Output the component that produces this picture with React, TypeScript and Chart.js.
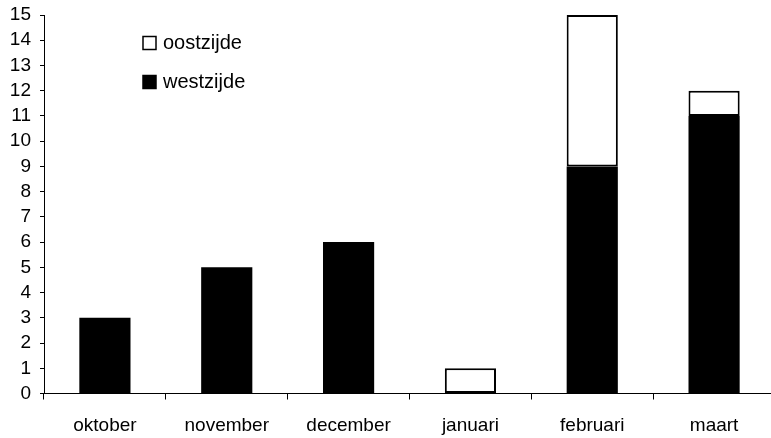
import React, { useEffect, useRef } from "react";
import { Chart, registerables } from "chart.js";

Chart.register(...registerables);

const categories = ["oktober", "november", "december", "januari", "februari", "maart"];
const westzijde = [3, 5, 6, 0, 9, 11];
const oostzijde = [0, 0, 0, 1, 6, 1];
const yTicks = [0, 15, 1]; // min, max, step

const FONT = "'Liberation Sans', Arial, sans-serif";
const nz = (arr: number[]) => arr.map((v) => (v === 0 ? null : v));

const insideLegend = {
  id: "insideLegend",
  afterDraw(chart: any) {
    const { ctx, chartArea } = chart;
    const items = [...chart.data.datasets].reverse();
    ctx.save();
    ctx.font = `20px ${FONT}`;
    ctx.textBaseline = "middle";
    ctx.textAlign = "left";
    items.forEach((ds: any, i: number) => {
      const cy = chartArea.top + 28 + i * 39;
      const bx = chartArea.left + 99;
      ctx.fillStyle = ds.backgroundColor;
      ctx.fillRect(bx, cy - 6.5, 13, 13);
      ctx.strokeStyle = "#000";
      ctx.lineWidth = 1.5;
      ctx.strokeRect(bx, cy - 6.5, 13, 13);
      ctx.fillStyle = "#000";
      ctx.fillText(ds.label, bx + 20, cy);
    });
    ctx.restore();
  },
};

export default function App() {
  const ref = useRef<HTMLCanvasElement>(null);
  useEffect(() => {
    document.body.style.margin = "0";
    document.body.style.overflow = "hidden";
    const chart = new Chart(ref.current!, {
      type: "bar",
      data: {
        labels: categories,
        datasets: [
          {
            label: "westzijde",
            data: nz(westzijde),
            backgroundColor: "#000000",
            borderColor: "#000000",
            borderWidth: 0,
            borderSkipped: false,
          },
          {
            label: "oostzijde",
            data: nz(oostzijde),
            backgroundColor: "#ffffff",
            borderColor: "#000000",
            borderWidth: 2,
            borderSkipped: false,
          },
        ],
      },
      options: {
        responsive: false,
        animation: false,
        devicePixelRatio: 1,
        layout: { padding: { top: 15, right: 1, left: 0, bottom: 0 } },
        plugins: { legend: { display: false }, tooltip: { enabled: false } },
        datasets: { bar: { categoryPercentage: 1, barPercentage: 0.42 } },
        scales: {
          x: {
            stacked: true,
            afterFit: (s: any) => {
              s.height = 44.5;
              s.paddingLeft = 0;
              s.paddingRight = 0;
            },
            grid: {
              display: true,
              drawOnChartArea: false,
              offset: true,
              tickLength: 6,
              tickColor: "#000",
              tickWidth: 1,
            },
            border: { display: true, color: "#000", width: 1 },
            ticks: { color: "#000", font: { family: FONT, size: 19 }, padding: 15, maxRotation: 0, autoSkip: false },
          },
          y: {
            stacked: true,
            min: yTicks[0],
            max: yTicks[1],
            afterFit: (s: any) => {
              s.width = 44;
              s.paddingTop = 0;
              s.paddingBottom = 0;
            },
            grid: {
              display: true,
              drawOnChartArea: false,
              tickLength: 4,
              tickColor: "#000",
              tickWidth: 1,
            },
            border: { display: true, color: "#000", width: 1 },
            ticks: { stepSize: yTicks[2], color: "#000", font: { family: FONT, size: 19 }, padding: 9, autoSkip: false },
          },
        },
      },
      plugins: [insideLegend],
    });
    return () => chart.destroy();
  }, []);
  return (
    <div style={{ width: 771, height: 438, overflow: "hidden", background: "#fff" }}>
      <canvas ref={ref} width={776} height={438} style={{ display: "block" }} />
    </div>
  );
}
